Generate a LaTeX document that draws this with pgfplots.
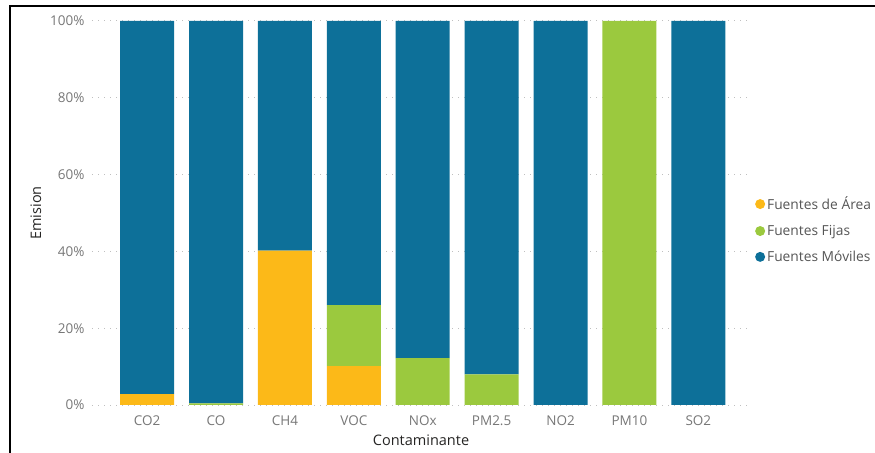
\documentclass[border=0pt]{standalone}
\usepackage{fontspec}
\setmainfont{Open Sans}
\usepackage{pgfplots}
\pgfplotsset{compat=1.18}
\definecolor{cArea}{HTML}{FCB918}
\definecolor{cFijas}{HTML}{9BC93E}
\definecolor{cMov}{HTML}{0D7099}
\definecolor{tickgray}{HTML}{777777}
\definecolor{titlegray}{HTML}{252423}
\definecolor{leggray}{HTML}{555555}
\begin{document}
\begin{tikzpicture}
\useasboundingbox (0,0) rectangle (875bp,453bp);
\draw[line width=2bp, black] (10bp,0) -- (10bp,447bp) -- (875bp,447bp);
\begin{axis}[
  at={(92bp,48bp)}, anchor=south west,
  scale only axis, width=658bp, height=384bp,
  ybar stacked, bar width=54bp,
  xmin=-0.8, xmax=8.75, ymin=0, ymax=100,
  xtick={0,...,8},
  xticklabels={CO2,CO,CH4,VOC,NOx,PM2.5,NO2,PM10,SO2},
  ytick={0,20,40,60,80,100},
  yticklabel={\pgfmathprintnumber{\tick}\%},
  /pgf/number format/assume math mode=true,
  axis line style={draw=none},
  major tick length=0pt,
  ymajorgrids, grid style={dash pattern=on 1bp off 5bp, gray!50, line width=1bp},
  ticklabel style={font=\fontsize{13.5bp}{15bp}\selectfont, text=tickgray},
  yticklabel style={xshift=-4bp},
  xticklabel style={yshift=-7bp},
  xlabel={Contaminante}, ylabel={Emision},
  label style={font=\fontsize{14.5bp}{17bp}\selectfont, text=titlegray},
  xlabel style={yshift=-3bp},
  ylabel style={yshift=2bp},
  legend style={at={(1.006,0.456)}, anchor=west, draw=none, fill=none,
    font=\fontsize{13.8bp}{16bp}\selectfont, text=leggray,
    row sep=10bp, inner sep=1bp},
  legend cell align=left,
]
\addplot+[fill=cArea, draw=none,
  legend image code/.code={\fill[cArea] (4bp,0) circle (5bp); \path (9bp,0);}]
  coordinates {(0,2.8) (1,0) (2,40.2) (3,10.1) (4,0) (5,0) (6,0) (7,0) (8,0)};
\addplot+[fill=cFijas, draw=none,
  legend image code/.code={\fill[cFijas] (4bp,0) circle (5bp); \path (9bp,0);}]
  coordinates {(0,0) (1,0.4) (2,0) (3,15.9) (4,12.2) (5,8.0) (6,0) (7,100) (8,0)};
\addplot+[fill=cMov, draw=none,
  legend image code/.code={\fill[cMov] (4bp,0) circle (5bp); \path (9bp,0);}]
  coordinates {(0,97.2) (1,99.6) (2,59.8) (3,74.0) (4,87.8) (5,92.0) (6,100) (7,0) (8,100)};
\legend{Fuentes de Área, Fuentes Fijas, Fuentes Móviles}
\end{axis}
\end{tikzpicture}
\end{document}
